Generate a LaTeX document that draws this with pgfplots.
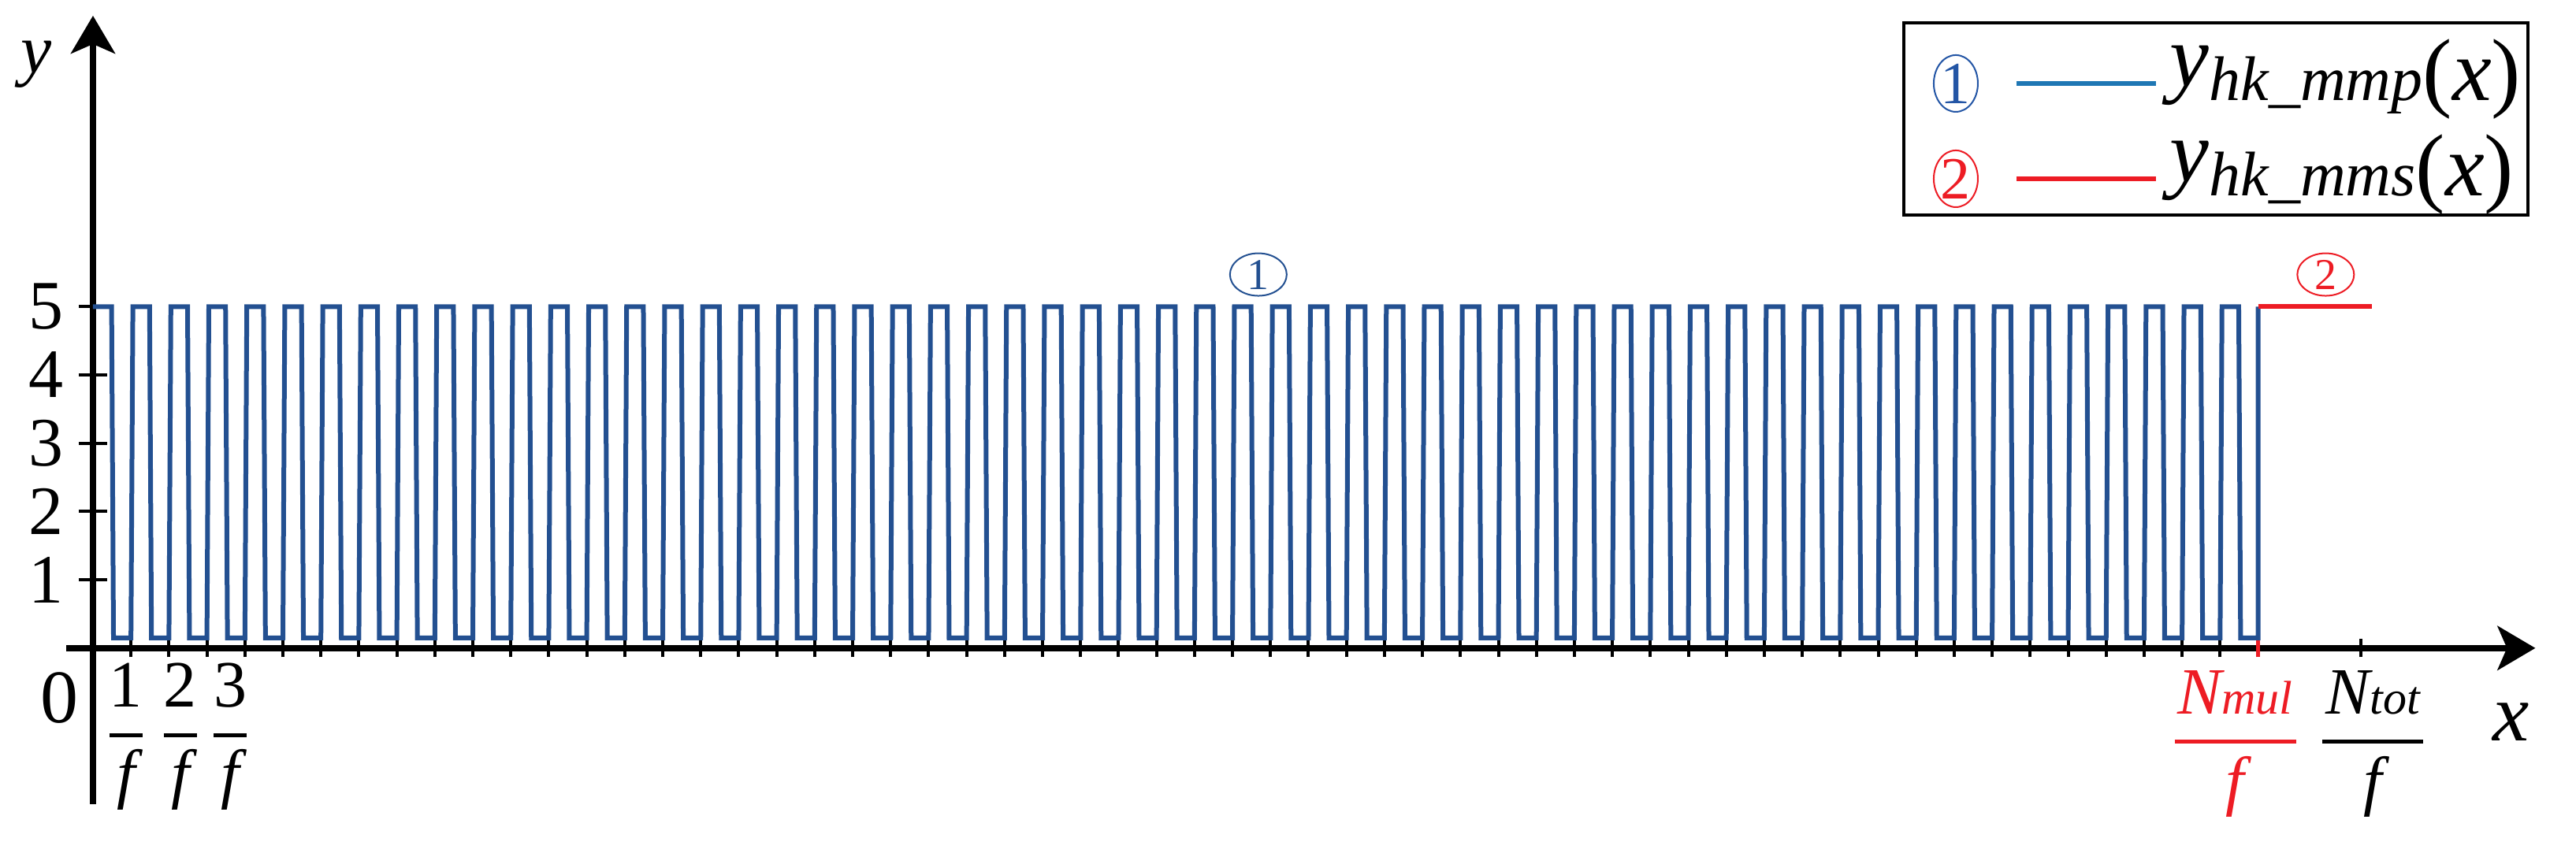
\documentclass[border=0pt]{standalone}
\usepackage{pgfplots}
\pgfplotsset{compat=1.18}
\usepackage{fontspec}
\setmainfont{Liberation Serif}
\usetikzlibrary{arrows.meta,shapes.geometric}
\definecolor{plotblue}{RGB}{35,80,145}
\definecolor{legblue}{RGB}{31,119,180}
\definecolor{myred}{RGB}{237,28,36}
\definecolor{circblue}{RGB}{35,85,165}
\newcommand{\fr}[2]{$\displaystyle{\mbox{#1}\above1.3pt\mbox{#2}}$}
\newcommand{\legtxt}[1]{\fontsize{28}{28}\selectfont\raisebox{4.5pt}{\itshape y}{\fontsize{20}{20}\selectfont\itshape hk\_#1}(\textit{x})}
\begin{document}
\begin{tikzpicture}
\begin{axis}[
  x=12.05pt, y=21.675pt,
  xmin=-0.7, xmax=64.3, ymin=-2.28, ymax=9.26,
  axis lines=middle,
  axis line style={line width=2pt, -{Stealth[length=12pt,width=14pt,inset=3pt]}},
  clip=false,
  tick align=center,
  xtick={1,2,...,56,59.7},
  xticklabels={},
  extra x ticks={57},
  extra x tick labels={},
  extra x tick style={xtick style={myred, line width=1.25pt}},
  ytick={1,2,3,4,5},
  yticklabels={1,2,3,4,5},
  major tick length=9pt,
  tick style={black, line width=1pt},
  xtick style={/pgfplots/major tick length=5.75pt},
  yticklabel style={font=\fontsize{22}{22}\selectfont, anchor=east, inner sep=0pt, xshift=-4.75pt},
  legend style={at={(0.9977,0.9932)}, anchor=north east, draw=black, line width=1.1pt,
    inner xsep=2.5pt, inner ysep=0.25pt, nodes={inner sep=0pt, text depth=, text height=},
    cells={anchor=base west},
    /tikz/row sep=0pt, /tikz/column sep=0pt},
]
\addplot[plotblue, line width=1.5pt,
  legend image code/.code={
    \path (-13.25pt,0) (67.25pt,0);
    \draw[legblue, line width=1.5pt] (19.25pt,5.5pt) -- (63.5pt,5.5pt);
    \draw[circblue, line width=0.5pt] (0,5.5pt) ellipse [x radius=7pt, y radius=9pt];
    \node[anchor=center, text=circblue, inner sep=0pt, font=\fontsize{19}{19}\selectfont] at (0,5.5pt) {1};
  }] coordinates {
(0,5) (0.49,5) (0.54,0.15) (1,0.15)
(1.05,5) (1.49,5) (1.54,0.15) (2,0.15)
(2.05,5) (2.49,5) (2.54,0.15) (3,0.15)
(3.05,5) (3.49,5) (3.54,0.15) (4,0.15)
(4.05,5) (4.49,5) (4.54,0.15) (5,0.15)
(5.05,5) (5.49,5) (5.54,0.15) (6,0.15)
(6.05,5) (6.49,5) (6.54,0.15) (7,0.15)
(7.05,5) (7.49,5) (7.54,0.15) (8,0.15)
(8.05,5) (8.49,5) (8.54,0.15) (9,0.15)
(9.05,5) (9.49,5) (9.54,0.15) (10,0.15)
(10.05,5) (10.49,5) (10.54,0.15) (11,0.15)
(11.05,5) (11.49,5) (11.54,0.15) (12,0.15)
(12.05,5) (12.49,5) (12.54,0.15) (13,0.15)
(13.05,5) (13.49,5) (13.54,0.15) (14,0.15)
(14.05,5) (14.49,5) (14.54,0.15) (15,0.15)
(15.05,5) (15.49,5) (15.54,0.15) (16,0.15)
(16.05,5) (16.49,5) (16.54,0.15) (17,0.15)
(17.05,5) (17.49,5) (17.54,0.15) (18,0.15)
(18.05,5) (18.49,5) (18.54,0.15) (19,0.15)
(19.05,5) (19.49,5) (19.54,0.15) (20,0.15)
(20.05,5) (20.49,5) (20.54,0.15) (21,0.15)
(21.05,5) (21.49,5) (21.54,0.15) (22,0.15)
(22.05,5) (22.49,5) (22.54,0.15) (23,0.15)
(23.05,5) (23.49,5) (23.54,0.15) (24,0.15)
(24.05,5) (24.49,5) (24.54,0.15) (25,0.15)
(25.05,5) (25.49,5) (25.54,0.15) (26,0.15)
(26.05,5) (26.49,5) (26.54,0.15) (27,0.15)
(27.05,5) (27.49,5) (27.54,0.15) (28,0.15)
(28.05,5) (28.49,5) (28.54,0.15) (29,0.15)
(29.05,5) (29.49,5) (29.54,0.15) (30,0.15)
(30.05,5) (30.49,5) (30.54,0.15) (31,0.15)
(31.05,5) (31.49,5) (31.54,0.15) (32,0.15)
(32.05,5) (32.49,5) (32.54,0.15) (33,0.15)
(33.05,5) (33.49,5) (33.54,0.15) (34,0.15)
(34.05,5) (34.49,5) (34.54,0.15) (35,0.15)
(35.05,5) (35.49,5) (35.54,0.15) (36,0.15)
(36.05,5) (36.49,5) (36.54,0.15) (37,0.15)
(37.05,5) (37.49,5) (37.54,0.15) (38,0.15)
(38.05,5) (38.49,5) (38.54,0.15) (39,0.15)
(39.05,5) (39.49,5) (39.54,0.15) (40,0.15)
(40.05,5) (40.49,5) (40.54,0.15) (41,0.15)
(41.05,5) (41.49,5) (41.54,0.15) (42,0.15)
(42.05,5) (42.49,5) (42.54,0.15) (43,0.15)
(43.05,5) (43.49,5) (43.54,0.15) (44,0.15)
(44.05,5) (44.49,5) (44.54,0.15) (45,0.15)
(45.05,5) (45.49,5) (45.54,0.15) (46,0.15)
(46.05,5) (46.49,5) (46.54,0.15) (47,0.15)
(47.05,5) (47.49,5) (47.54,0.15) (48,0.15)
(48.05,5) (48.49,5) (48.54,0.15) (49,0.15)
(49.05,5) (49.49,5) (49.54,0.15) (50,0.15)
(50.05,5) (50.49,5) (50.54,0.15) (51,0.15)
(51.05,5) (51.49,5) (51.54,0.15) (52,0.15)
(52.05,5) (52.49,5) (52.54,0.15) (53,0.15)
(53.05,5) (53.49,5) (53.54,0.15) (54,0.15)
(54.05,5) (54.49,5) (54.54,0.15) (55,0.15)
(55.05,5) (55.49,5) (55.54,0.15) (56,0.15)
(56.05,5) (56.49,5) (56.54,0.15) (57,0.15)
(57,5)
};
\addlegendentry{\makebox[111pt][l]{\rule[-5.75pt]{0pt}{30.25pt}\smash{\legtxt{mmp}}}}
\addplot[myred, line width=1.5pt,
  legend image code/.code={
    \path (-13.25pt,0) (67.25pt,0);
    \draw[myred, line width=1.5pt] (19.25pt,5.5pt) -- (63.5pt,5.5pt);
    \draw[myred, line width=0.5pt] (0,5.5pt) ellipse [x radius=7pt, y radius=9pt];
    \node[anchor=center, text=myred, inner sep=0pt, font=\fontsize{19}{19}\selectfont] at (0,5.5pt) {2};
  }] coordinates {(57,5) (60,5)};
\addlegendentry{\makebox[111pt][l]{\rule[-5.75pt]{0pt}{30.25pt}\smash{\legtxt{mms}}}}
% annotations
\draw[plotblue, line width=0.5pt] (axis cs:30.68,5.47) ellipse [x radius=9pt, y radius=6.75pt];
\node[text=plotblue, inner sep=0pt, font=\fontsize{14}{14}\selectfont] at (axis cs:30.68,5.47) {1};
\draw[myred, line width=0.5pt] (axis cs:58.78,5.47) ellipse [x radius=9pt, y radius=6.75pt];
\node[text=myred, inner sep=0pt, font=\fontsize{14}{14}\selectfont] at (axis cs:58.78,5.47) {2};
\node[font=\fontsize{26}{26}\selectfont\itshape, inner sep=0pt] at (axis cs:63.66,-1.08) {x};
\node[font=\fontsize{22}{22}\selectfont\itshape, inner sep=0pt] at (axis cs:-1.5,8.55) {y};
\node[font=\fontsize{24}{24}\selectfont, inner sep=0pt] at (axis cs:-0.88,-0.73) {0};
\node[font=\fontsize{21}{21}\selectfont, inner sep=0pt] at (axis cs:0.87,-1.3) {\fr{1}{\itshape f}};
\node[font=\fontsize{21}{21}\selectfont, inner sep=0pt] at (axis cs:2.30,-1.3) {\fr{2}{\itshape f}};
\node[font=\fontsize{21}{21}\selectfont, inner sep=0pt] at (axis cs:3.61,-1.3) {\fr{3}{\itshape f}};
\node[font=\fontsize{21}{21}\selectfont, inner sep=0pt, text=myred] at (axis cs:56.4,-1.4) {\color{myred}\fr{\hspace{1pt}\itshape N{\fontsize{15}{15}\selectfont mul}\hspace{1pt}}{\itshape f}};
\node[font=\fontsize{21}{21}\selectfont, inner sep=0pt] at (axis cs:60.02,-1.4) {\fr{\hspace{1pt}\itshape N{\fontsize{15}{15}\selectfont tot}\hspace{1pt}}{\itshape f}};
\path (axis cs:-2.448,-2.837) rectangle (axis cs:65.37,9.49);
\end{axis}
\end{tikzpicture}
\end{document}
